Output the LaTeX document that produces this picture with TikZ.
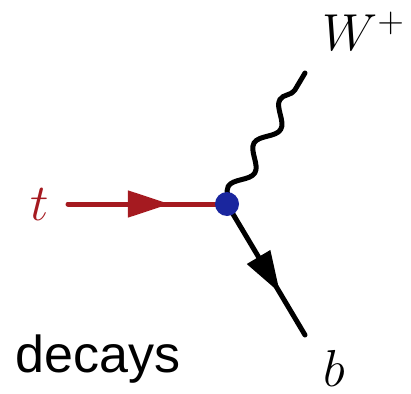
\RequirePackage{fix-cm}
\documentclass[tikz,border=0pt]{standalone}
\usepackage{fontspec}
\newfontfamily\labelfont{Liberation Sans}
\usetikzlibrary{arrows.meta,decorations.pathmorphing,decorations.markings}

\begin{document}
\begin{tikzpicture}[x=1pt,y=-1pt,font=\fontsize{52}{60}\selectfont]

\definecolor{cTop}{RGB}{165,26,32}
\definecolor{cVertex}{RGB}{26,38,158}

\tikzset{
  fermion/.style  = {line width=5pt, line cap=round, postaction={decorate},
                     decoration={markings, mark=at position #1 with
                       {\arrow{Triangle[length=42pt,width=26pt]}}}},
  boson/.style    = {line width=5pt, line cap=round, decorate,
                     decoration={snake, amplitude=8pt, segment length=50.5pt,
                                 pre length=0pt, post length=0pt}},
  vertexdot/.style= {circle, fill=cVertex, inner sep=0pt, minimum size=24pt},
}

\useasboundingbox (0,0) rectangle (411,393);

%% ---------- end points ----------
\coordinate (vtx)  at (227,204);
\coordinate (tin)  at (68,204);
\coordinate (wout) at (305,73);
\coordinate (bout) at (305,335);

%% ---------- the lines ----------
\draw[fermion=0.64, cTop] (tin) -- (vtx);
\draw[boson] (vtx) -- (wout);
\draw[fermion=0.68] (vtx) -- (bout);

\node[vertexdot] (vertex) at (vtx) {};

%% ---------- labels ----------
\node[cTop] (tlabel) at (40,205) {$t$};
\node[anchor=base west] (wlabel) at (319,51) {$W^+$};
\node[anchor=base] (blabel) at (334,386) {$b$};
\node[anchor=base west, font=\fontsize{52}{60}\labelfont] (caption) at (12,372) {decays};

\end{tikzpicture}
\end{document}
